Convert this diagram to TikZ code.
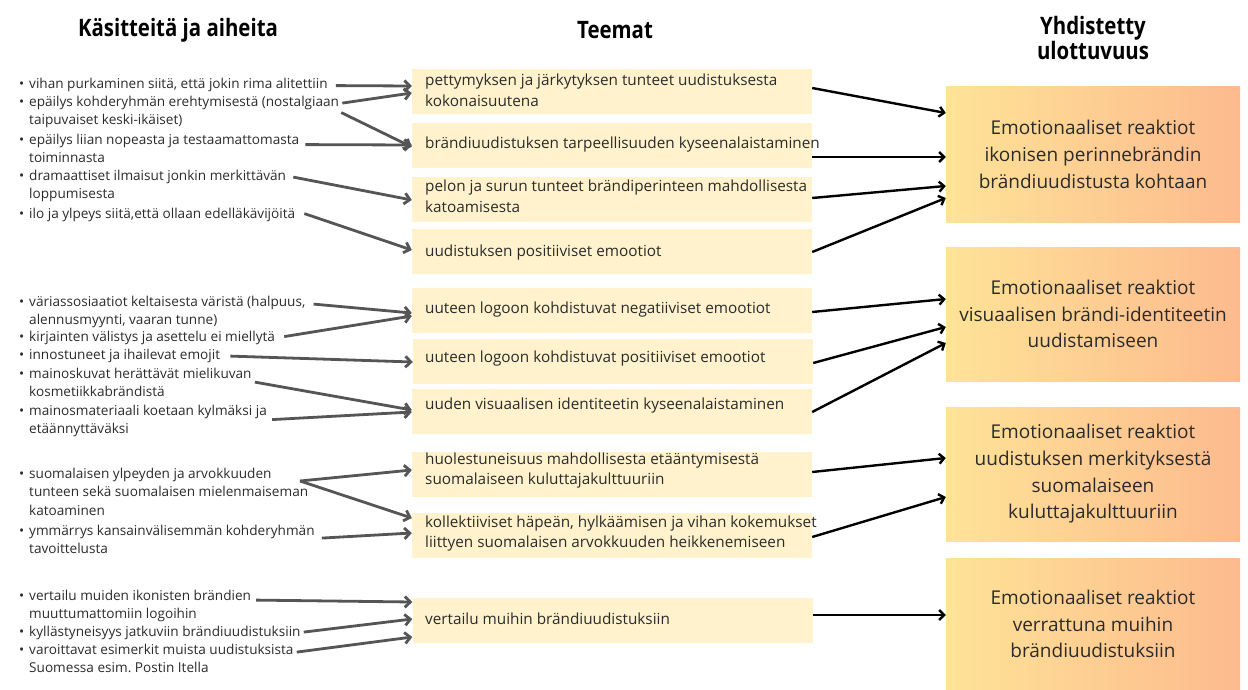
\documentclass[tikz,border=0pt]{standalone}
\usepackage{fontspec}
\setmainfont{Open Sans}
\newfontfamily\hdrfont[FakeStretch=0.85]{Open Sans}
\usetikzlibrary{arrows.meta,calc}
\definecolor{txt}{HTML}{2B2B2B}
\definecolor{themefill}{HTML}{FFF2CC}
\definecolor{dimL}{HTML}{FEE397}
\definecolor{dimR}{HTML}{FDBA8E}
\definecolor{arrgray}{HTML}{555555}
\newcommand\bul{\makebox[10pt][l]{\textbullet}}
\newcommand\bitem[1]{\begin{tabular}[t]{@{}l@{}l@{}}\bul & #1\end{tabular}}
\newcommand\tlines[1]{\begin{tabular}[t]{@{}l@{}}#1\end{tabular}}
\tikzset{
  item/.style={anchor=base west, inner sep=0pt, text=txt, font=\fontsize{13.6}{18.3}\selectfont},
  theme/.style={fill=themefill, minimum width=400pt, minimum height=45pt, inner sep=0pt},
  themetxt/.style={anchor=base west, inner sep=0pt, text=txt, font=\fontsize{15.3}{20.5}\selectfont},
  dim/.style={left color=dimL, right color=dimR, minimum width=294pt, inner sep=0pt, text=txt, align=center, font=\fontsize{19}{26.7}\selectfont},
  hdr/.style={font=\hdrfont\bfseries\fontsize{24}{25}\selectfont, text=black, align=center, inner sep=0pt},
  garrow/.style={draw=arrgray, line width=2.8pt, -{Straight Barb[length=5.5pt,width=11pt]}},
  karrow/.style={draw=black, line width=2.4pt, -{Straight Barb[length=5pt,width=10pt]}}
}
\begin{document}
\frenchspacing
\begin{tikzpicture}[x=1pt,y=-1pt]
\useasboundingbox (0,0) rectangle (1248,690);
% headers
\node[hdr] (h1) at (178,30) {Käsitteitä ja aiheita};
\node[hdr] (h2) at (615,30) {Teemat};
\node[hdr] (h3) at (1093,38) {Yhdistetty\\ulottuvuus};
% left items
\node[item] (L1) at (19,88.6) {\bitem{vihan purkaminen siitä, että jokin rima alitettiin}};
\node[item] (L2) at (19,106.6) {\bitem{epäilys kohderyhmän erehtymisestä (nostalgiaan\\ & taipuvaiset keski-ikäiset)}};
\node[item] (L3) at (19,144.6) {\bitem{epäilys liian nopeasta ja testaamattomasta\\ & toiminnasta}};
\node[item] (L4) at (19,180.6) {\bitem{dramaattiset ilmaisut jonkin merkittävän\\ & loppumisesta}};
\node[item] (L5) at (19,218.6) {\bitem{ilo ja ylpeys siitä,että ollaan edelläkävijöitä}};
\node[item] (L6) at (19,306.6) {\bitem{väriassosiaatiot keltaisesta väristä (halpuus,\\ & alennusmyynti, vaaran tunne)}};
\node[item] (L7) at (19,341.6) {\bitem{kirjainten välistys ja asettelu ei miellytä}};
\node[item] (L8) at (19,359.6) {\bitem{innostuneet ja ihailevat emojit}};
\node[item] (L9) at (19,378.6) {\bitem{mainoskuvat herättävät mielikuvan\\ & kosmetiikkabrändistä}};
\node[item] (L10) at (19,415.6) {\bitem{mainosmateriaali koetaan kylmäksi ja\\ & etäännyttäväksi}};
\node[item] (L11) at (19,478.6) {\bitem{suomalaisen ylpeyden ja arvokkuuden\\ & tunteen sekä suomalaisen mielenmaiseman\\ & katoaminen}};
\node[item] (L12) at (19,535.6) {\bitem{ymmärrys kansainvälisemmän kohderyhmän\\ & tavoittelusta}};
\node[item] (L13) at (19,600.6) {\bitem{vertailu muiden ikonisten brändien\\ & muuttumattomiin logoihin}};
\node[item] (L14) at (19,636.6) {\bitem{kyllästyneisyys jatkuviin brändiuudistuksiin}};
\node[item] (L15) at (19,654.6) {\bitem{varoittavat esimerkit muista uudistuksista\\ & Suomessa esim. Postin Itella}};
\coordinate (s11) at (300,481);
% theme boxes
\node[theme] (b1) at (612,91.5) {};
\node[theme] (b2) at (612,145.5) {};
\node[theme] (b3) at (612,199.5) {};
\node[theme] (b4) at (612,251) {};
\node[theme] (b5) at (612,310.5) {};
\node[theme] (b6) at (613,361.5) {};
\node[theme] (b7) at (612,411.5) {};
\node[theme] (b8) at (612,474) {};
\node[theme] (b9) at (612,535.5) {};
\node[theme] (b10) at (612.5,620) {};
\node[themetxt] (t1) at (425,86) {\tlines{pettymyksen ja järkytyksen tunteet uudistuksesta\\kokonaisuutena}};
\node[themetxt] (t2) at (425,149) {brändiuudistuksen tarpeellisuuden kyseenalaistaminen};
\node[themetxt] (t3) at (425,192) {\tlines{pelon ja surun tunteet brändiperinteen mahdollisesta\\katoamisesta}};
\node[themetxt] (t4) at (425,256) {uudistuksen positiiviset emootiot};
\node[themetxt] (t5) at (425,313) {uuteen logoon kohdistuvat negatiiviset emootiot};
\node[themetxt] (t6) at (425,362) {uuteen logoon kohdistuvat positiiviset emootiot};
\node[themetxt] (t7) at (425,409) {uuden visuaalisen identiteetin kyseenalaistaminen};
\node[themetxt] (t8) at (425,464) {\tlines{huolestuneisuus mahdollisesta etääntymisestä\\suomalaiseen kuluttajakulttuuriin}};
\node[themetxt] (t9) at (425,527) {\tlines{kollektiiviset häpeän, hylkäämisen ja vihan kokemukset\\liittyen suomalaisen arvokkuuden heikkenemiseen}};
\node[themetxt] (t10) at (425,624) {vertailu muihin brändiuudistuksiin};
% dimension boxes
\node[dim, minimum height=135pt] (r1) at (1093,154.5) {Emotionaaliset reaktiot\\ikonisen perinnebrändin\\brändiuudistusta kohtaan};
\node[dim, minimum height=134pt] (r2) at (1093,314) {Emotionaaliset reaktiot\\visuaalisen brändi-identiteetin\\uudistamiseen};
\node[dim, minimum height=134pt] (r3) at (1093,474) {Emotionaaliset reaktiot\\uudistuksen merkityksestä\\suomalaiseen\\kuluttajakulttuuriin};
\node[dim, minimum height=132pt] (r4) at (1093,624) {Emotionaaliset reaktiot\\verrattuna muihin\\brändiuudistuksiin};
% gray arrows
\draw[garrow] ($(L1.base east)+(8,-3)$) -- (b1.west |- 0,86);
\draw[garrow] ($(L2.base east)+(3,-3.5)$) -- (b1.west |- 0,93);
\draw[garrow] ($(L2.base east)+(2,6)$) -- (b2.west |- 0,147);
\draw[garrow] ($(L3.base east)+(6,0)$) -- (b2.west |- 0,145);
\draw[garrow] ($(L4.base east)+(7,-3.5)$) -- (b3.west |- 0,200);
\draw[garrow] ($(L5.base east)+(9,-5)$) -- (b4.west |- 0,250);
\draw[garrow] ($(L6.base east)+(8,-2.5)$) -- (b5.west |- 0,313);
\draw[garrow] ($(L7.base east)+(9,-5)$) -- (b5.west |- 0,316);
\draw[garrow] ($(L8.base east)+(10,-3.5)$) -- (b6.west |- 0,362);
\draw[garrow] ($(L9.base east)+(3,3.5)$) -- (b7.west |- 0,410);
\draw[garrow] ($(L10.base east)+(5,4)$) -- (b7.west |- 0,412);
\draw[garrow] (s11) -- (b8.west |- 0,470);
\draw[garrow] (s11) -- (b9.west |- 0,518);
\draw[garrow] ($(L12.base east)+(7,2.5)$) -- (b9.west |- 0,533);
\draw[garrow] ($(L13.base east)+(5,-0.5)$) -- (b10.west |- 0,602);
\draw[garrow] ($(L14.base east)+(3,-4.5)$) -- (b10.west |- 0,619);
\draw[garrow] ($(L15.base east)+(3,-2.5)$) -- (b10.west |- 0,637);
% black arrows
\draw[karrow] (b1.east |- 0,88) -- (r1.west |- 0,113);
\draw[karrow] (b2.east |- 0,157) -- (r1.west |- 0,157);
\draw[karrow] (b3.east |- 0,198) -- (r1.west |- 0,186);
\draw[karrow] (b4.east |- 0,252) -- (r1.west |- 0,198);
\draw[karrow] (b5.east |- 0,312) -- (r2.west |- 0,299);
\draw[karrow] (b6.east |- 0,363) -- (r2.west |- 0,327);
\draw[karrow] (b7.east |- 0,412) -- (r2.west |- 0,343);
\draw[karrow] (b8.east |- 0,472) -- (r3.west |- 0,458);
\draw[karrow] (b9.east |- 0,537) -- (r3.west |- 0,497);
\draw[karrow] (b10.east |- 0,615) -- (r4.west |- 0,615);
\end{tikzpicture}
\end{document}
